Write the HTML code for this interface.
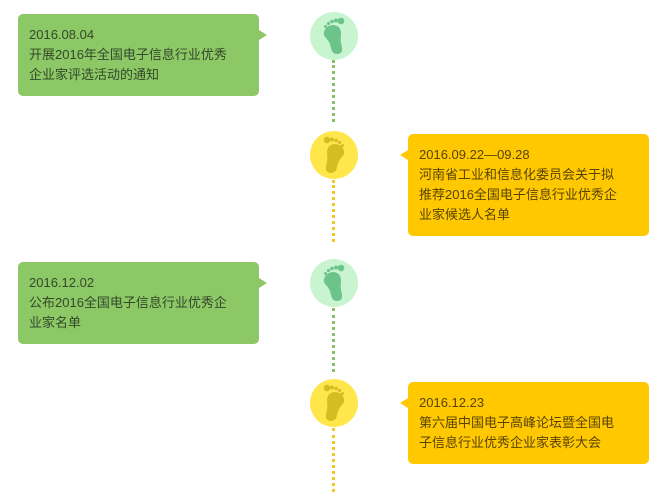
<!DOCTYPE html>
<html><head><meta charset="utf-8"><style>
body{margin:0;width:668px;height:499px;background:#fff;position:relative;overflow:hidden;font-family:"Liberation Sans","Noto Sans CJK SC",sans-serif;}
.b{position:absolute;width:219px;padding:11px 11px;font-size:13px;line-height:20px;border-radius:5px;box-sizing:content-box;}
.g{background:#8cc866;color:#34482a;left:18px;}
.y{background:#ffc801;color:#584400;left:408px;}
.g:after{content:"";position:absolute;right:-8px;top:16px;border:5px solid transparent;border-left:8px solid #8cc866;border-right:0;}
.y:after{content:"";position:absolute;left:-8px;top:16px;border:5px solid transparent;border-right:8px solid #ffc801;border-left:0;}
.l{position:absolute;left:332px;width:0;border-left:3px dotted;}
svg{position:absolute;left:310px;}
</style></head><body>
<div class="l" style="top:60px;height:62px;border-color:#8cbf6a"></div>
<div class="l" style="top:180px;height:62px;border-color:#f0c82a"></div>
<div class="l" style="top:308px;height:64px;border-color:#8cbf6a"></div>
<div class="l" style="top:428px;height:64px;border-color:#f0c82a"></div>

<svg width="48" height="48" style="top:12px" viewBox="0 0 48 48"><circle cx="24" cy="24" r="24" fill="#c8f5cf"/><g fill="#6cc48a"><path d="M14 20 Q16 13 24 13 Q31 14 31 22 Q30 29 32 35 Q33 42 27 42 Q22 42 21 36 Q20 30 16 26 Q13 23 14 20Z"/><circle cx="31" cy="9" r="3.3"/><circle cx="26" cy="8.5" r="2"/><circle cx="22" cy="9.5" r="1.8"/><circle cx="18.5" cy="11.5" r="1.6"/><circle cx="15.5" cy="14.5" r="1.5"/></g></svg>
<svg width="48" height="48" style="top:131px" viewBox="0 0 48 48"><circle cx="24" cy="24" r="24" fill="#ffe64a"/><g fill="#d4bd22"><path d="M34 20 Q32 13 24 13 Q17 14 17 22 Q18 29 16 35 Q15 42 21 42 Q26 42 27 36 Q28 30 32 26 Q35 23 34 20Z"/><circle cx="17" cy="9" r="3.3"/><circle cx="22" cy="8.5" r="2"/><circle cx="26" cy="9.5" r="1.8"/><circle cx="29.5" cy="11.5" r="1.6"/><circle cx="32.5" cy="14.5" r="1.5"/></g></svg>
<svg width="48" height="48" style="top:259px" viewBox="0 0 48 48"><circle cx="24" cy="24" r="24" fill="#c8f5cf"/><g fill="#6cc48a"><path d="M14 20 Q16 13 24 13 Q31 14 31 22 Q30 29 32 35 Q33 42 27 42 Q22 42 21 36 Q20 30 16 26 Q13 23 14 20Z"/><circle cx="31" cy="9" r="3.3"/><circle cx="26" cy="8.5" r="2"/><circle cx="22" cy="9.5" r="1.8"/><circle cx="18.5" cy="11.5" r="1.6"/><circle cx="15.5" cy="14.5" r="1.5"/></g></svg>
<svg width="48" height="48" style="top:379px" viewBox="0 0 48 48"><circle cx="24" cy="24" r="24" fill="#ffe64a"/><g fill="#d4bd22"><path d="M34 20 Q32 13 24 13 Q17 14 17 22 Q18 29 16 35 Q15 42 21 42 Q26 42 27 36 Q28 30 32 26 Q35 23 34 20Z"/><circle cx="17" cy="9" r="3.3"/><circle cx="22" cy="8.5" r="2"/><circle cx="26" cy="9.5" r="1.8"/><circle cx="29.5" cy="11.5" r="1.6"/><circle cx="32.5" cy="14.5" r="1.5"/></g></svg>

<div class="b g" style="top:14px">2016.08.04<br>开展2016年全国电子信息行业优秀<br>企业家评选活动的通知</div>
<div class="b y" style="top:134px">2016.09.22—09.28<br>河南省工业和信息化委员会关于拟<br>推荐2016全国电子信息行业优秀企<br>业家候选人名单</div>
<div class="b g" style="top:262px">2016.12.02<br>公布2016全国电子信息行业优秀企<br>业家名单</div>
<div class="b y" style="top:382px">2016.12.23<br>第六届中国电子高峰论坛暨全国电<br>子信息行业优秀企业家表彰大会</div>
</body></html>
